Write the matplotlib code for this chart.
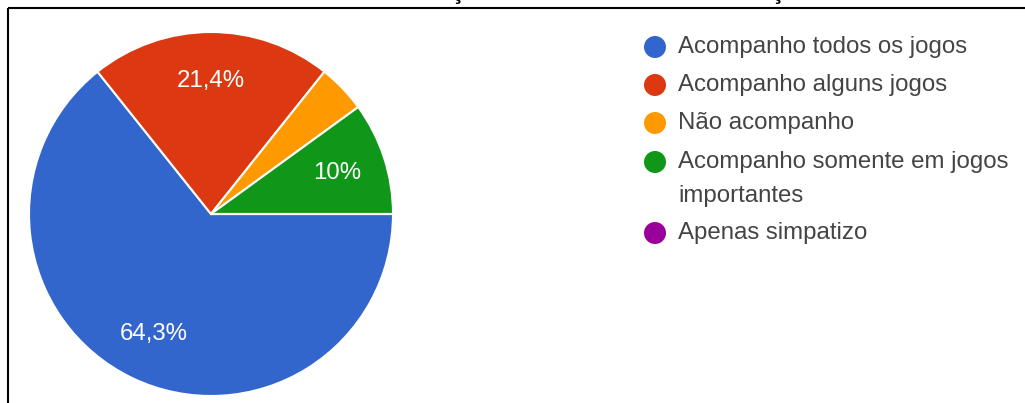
import matplotlib
matplotlib.use("Agg")
import matplotlib.pyplot as plt
from matplotlib.patches import Circle

plt.rcParams['font.family'] = ['Liberation Sans', 'DejaVu Sans']

categories = [
    "Acompanho todos os jogos",
    "Acompanho alguns jogos",
    "Não acompanho",
    "Acompanho somente em jogos\nimportantes",
    "Apenas simpatizo",
]
responses = [45, 15, 3, 7, 0]
colors = ["#3366CC", "#DC3912", "#FF9900", "#109618", "#990099"]

W, H = 1025, 403
fig = plt.figure(figsize=(W / 100, H / 100), dpi=100)

# pie axes, placed in pixel terms: centre (211, 214), radius 182
cx, cy, r = 211, 214, 182
ax = fig.add_axes([(cx - r) / W, (H - cy - r) / H, 2 * r / W, 2 * r / H])


def fmt_pct(p):
    if p < 5:
        return ""
    s = f"{p:.1f}"
    if s.endswith(".0"):
        s = s[:-2]
    return s.replace(".", ",") + "%"


ax.pie(
    responses, colors=colors, startangle=0, counterclock=False,
    autopct=fmt_pct, pctdistance=0.73, radius=1,
    wedgeprops=dict(edgecolor="white", linewidth=1.5),
    textprops=dict(color="white", fontsize=17.3),
)
ax.set_xlim(-1, 1)
ax.set_ylim(-1, 1)
ax.set_aspect("equal")
ax.axis("off")

# overlay in pixel coordinates for legend and frame
ov = fig.add_axes([0, 0, 1, 1], zorder=5)
ov.set_xlim(0, W)
ov.set_ylim(H, 0)
ov.axis("off")
ov.patch.set_alpha(0)

row_y = [47, 85, 123, 162, 233]
for cat, col, y in zip(categories, colors, row_y):
    ov.add_patch(Circle((655, y), 11, color=col, lw=0))
    for i, ln in enumerate(cat.split("\n")):
        ov.text(678, y + i * 34, ln, fontsize=17.3, color="#444444",
                va="center", ha="left")

# frame lines along the top and left
ov.plot([7.5, W], [7.5, 7.5], color="black", lw=1.5, solid_capstyle="butt")
ov.plot([7.5, 7.5], [7.5, H], color="black", lw=1.5, solid_capstyle="butt")

# title runs off the top edge; only its cedillas remain visible
for x in (458, 778):
    ov.text(x, -1, "Ç", fontsize=17.3, color="black", fontweight="bold",
            ha="center", va="baseline")

fig.savefig("out.png", dpi=100)
